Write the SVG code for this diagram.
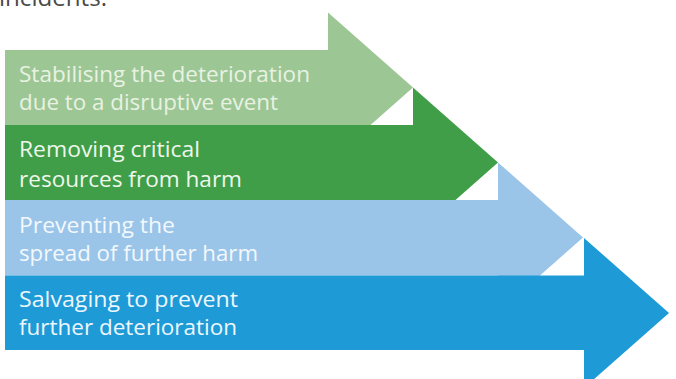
<svg xmlns="http://www.w3.org/2000/svg" width="676" height="379" viewBox="0 0 676 379">
<style>
.lbl{font-family:"Open Sans","Noto Sans","Liberation Sans",sans-serif;font-size:22.5px}
.t1{fill:#E8F2E2}
.t2{fill:#EEF7EC}
.t3{fill:#F3F8FD}
.t4{fill:#EEF7FD}
.top{font-family:"Open Sans","Noto Sans","Liberation Sans",sans-serif;font-size:24px;fill:#4A4A4A}
</style>
<rect width="676" height="379" fill="#FFFFFF"/>
<text class="top" x="-1" y="6" textLength="108" lengthAdjust="spacingAndGlyphs">incidents.</text>
<g id="connectors"></g>
<g id="step1">
<polygon points="5,50 328,50 328,12.5 413,87.5 328,162.5 328,125 5,125" fill="#9DC695"/>
<text class="lbl t1" x="19" y="82" textLength="291" lengthAdjust="spacingAndGlyphs">Stabilising the deterioration</text>
<text class="lbl t1" x="19" y="110" textLength="259" lengthAdjust="spacingAndGlyphs">due to a disruptive event</text>
</g>
<g id="step2">
<polygon points="5,125 413,125 413,87.5 498,162.5 413,237.5 413,200 5,200" fill="#409E48"/>
<text class="lbl t2" x="19" y="157" textLength="181" lengthAdjust="spacingAndGlyphs">Removing critical</text>
<text class="lbl t2" x="19" y="187" textLength="223" lengthAdjust="spacingAndGlyphs">resources from harm</text>
</g>
<g id="step3">
<polygon points="5,200 498,200 498,162.5 583,237.5 498,312.5 498,275.5 5,275.5" fill="#9AC5E9"/>
<text class="lbl t3" x="19" y="233" textLength="156" lengthAdjust="spacingAndGlyphs">Preventing the</text>
<text class="lbl t3" x="19" y="261" textLength="239" lengthAdjust="spacingAndGlyphs">spread of further harm</text>
</g>
<g id="step4">
<polygon points="5,275.5 584,275.5 584,238 669,313 584,388 584,350 5,350" fill="#1E9BD7"/>
<text class="lbl t4" x="19" y="307" textLength="219" lengthAdjust="spacingAndGlyphs">Salvaging to prevent</text>
<text class="lbl t4" x="19" y="335" textLength="218" lengthAdjust="spacingAndGlyphs">further deterioration</text>
</g>
</svg>
